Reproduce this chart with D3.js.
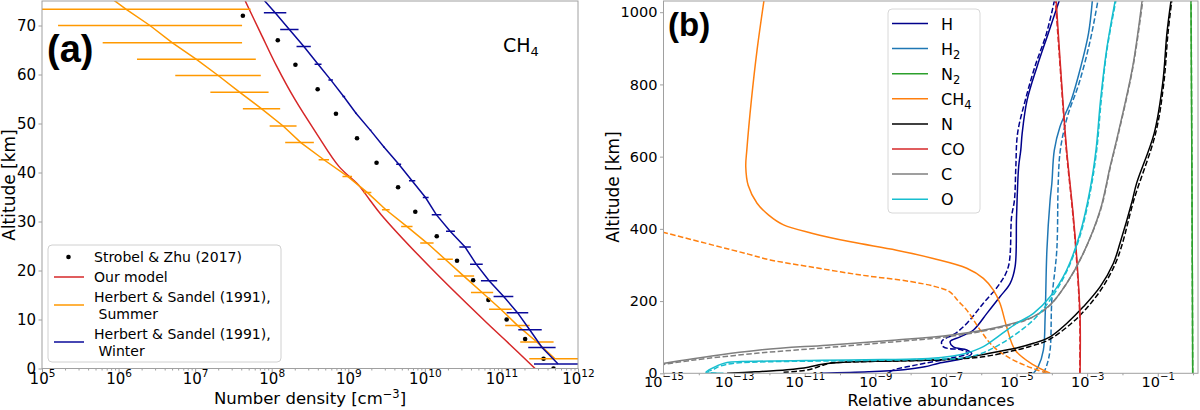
<!DOCTYPE html>
<html><head><meta charset="utf-8">
<script src="https://cdn.jsdelivr.net/npm/d3@7/dist/d3.min.js"></script>
<style>
body{margin:0;background:#fff;}
svg text{font-family:"DejaVu Sans",sans-serif;fill:#000;}
</style></head><body>
<svg id="chart" width="1200" height="410"></svg>
<script>
// ================= Panel (a): CH4 number density [cm^-3] vs altitude [km] =================
const strobelAlt     = [72, 67, 62, 57, 52, 47, 42, 37, 32, 27, 22, 18, 14, 10, 6, 2, 0];
const strobelDensity = [4.2e7, 1.2e8, 2.04e8, 3.98e8, 6.9e8, 1.3e9, 2.34e9, 4.47e9, 7.5e9, 1.43e10, 2.63e10, 4.27e10, 6.76e10, 1.17e11, 2.04e11, 3.55e11, 4.79e11];

const modelAlt     = [75, 68.5, 61.7, 54.9, 48.1, 41.2, 37.5, 34.4, 31.4, 20.5, 9.9, 5.8, 0];
const modelDensity = [4.51e7, 7.14e7, 1.16e8, 2.01e8, 3.8e8, 7.59e8, 1.35e9, 1.91e9, 2.69e9, 1.2e10, 5.89e10, 1.12e11, 2.75e11];

const summerLineAlt     = [75.5, 73.3, 70.0, 66.5, 63.1, 59.8, 56.4, 53.0, 49.5, 46.1, 42.6, 39.2, 35.9, 32.4, 29.0, 25.6, 22.3, 18.9, 15.5, 12.1, 8.8, 5.4, 2.0];
const summerLineDensity = [8.1e5, 1.26e6, 2.57e6, 5.0e6, 1.04e7, 2.0e7, 3.8e7, 7.4e7, 1.41e8, 2.4e8, 4.8e8, 9.8e8, 1.78e9, 3.1e9, 5.8e9, 1.07e10, 1.84e10, 3.2e10, 5.6e10, 9.8e10, 1.62e11, 2.9e11, 5.0e11];
const summerBarAlt  = [73.3, 70.0, 66.5, 63.1, 59.8, 56.4, 53.0, 49.5, 46.1, 42.6, 39.2, 35.9, 32.4, 29.0, 25.6, 22.3, 18.9, 15.5, 12.1, 8.8, 5.4, 2.0];
const summerBarLow  = [2.95e4, 1.62e5, 6.2e5, 1.74e6, 5.5e6, 1.58e7, 4.2e7, 9.4e7, 1.5e8, 4.1e8, 8.4e8, 1.58e9, 2.75e9, 4.9e9, 8.7e9, 1.46e10, 2.4e10, 4.0e10, 6.9e10, 1.12e11, 1.76e11, 2.31e11];
const summerBarHigh = [5.3e7, 4.1e7, 4.1e7, 6.2e7, 7.2e7, 9.1e7, 1.29e8, 2.11e8, 3.55e8, 5.6e8, 1.12e9, 2.0e9, 3.47e9, 6.9e9, 1.3e10, 2.32e10, 4.4e10, 7.8e10, 1.36e11, 2.34e11, 4.8e11, 1.12e12];

const winterLineAlt     = [75.5, 72.6, 69.2, 65.7, 62.1, 58.9, 55.5, 52.1, 48.6, 45.2, 41.7, 38.3, 34.9, 31.4, 28.0, 24.8, 21.3, 17.9, 14.7, 11.4, 7.9, 4.3, 0.9];
const winterLineDensity = [7.6e7, 1.11e8, 1.7e8, 2.63e8, 4.03e8, 5.9e8, 8.7e8, 1.26e9, 1.95e9, 2.92e9, 4.57e9, 6.8e9, 1.02e10, 1.41e10, 2.14e10, 3.35e10, 4.68e10, 6.9e10, 1.07e11, 1.62e11, 2.34e11, 3.39e11, 5.5e11];
const winterBarAlt  = [72.6, 69.2, 65.7, 62.1, 58.9, 55.5, 52.1, 48.6, 45.2, 41.7, 38.3, 34.9, 31.4, 28.0, 24.8, 21.3, 17.9, 14.7, 11.4, 7.9, 4.3, 0.9];
const winterBarLow  = [7.9e7, 1.29e8, 2.11e8, 3.63e8, 5.5e8, 8.4e8, 1.23e9, 1.91e9, 2.85e9, 4.22e9, 6.2e9, 9.4e9, 1.23e10, 1.89e10, 2.82e10, 3.89e10, 5.4e10, 7.9e10, 1.17e11, 1.66e11, 2.24e11, 2.66e11];
const winterBarHigh = [1.55e8, 2.24e8, 3.24e8, 4.47e8, 6.3e8, 9.1e8, 1.29e9, 2.0e9, 2.99e9, 4.9e9, 7.5e9, 1.12e10, 1.64e10, 2.47e10, 3.98e10, 5.7e10, 8.8e10, 1.43e11, 2.24e11, 3.36e11, 5.1e11, 1.15e12];

const xTickExpA = [5, 6, 7, 8, 9, 10, 11, 12];
const yTicksA   = [0, 10, 20, 30, 40, 50, 60, 70];
const legendA   = [["Strobel & Zhu (2017)"], ["Our model"], ["Herbert & Sandel (1991),", " Summer"], ["Herbert & Sandel (1991),", " Winter"]];

// ================= Panel (b): relative abundances, [altitude km, log10 abundance] =================
const H_solid   = [[0,-10.5],[4,-9.2],[10,-8.2],[18,-7.6],[28,-7.2],[41.5,-6.5],[55,-6.27],[64.5,-6.41],[73,-6.79],[88,-6.88],[101,-6.6],[120,-6.22],[166,-5.84],[212,-5.47],[249,-5.18],[296,-5.04],[434,-5.0],[572,-4.94],[618,-4.88],[665,-4.84],[757,-4.70],[849,-4.42],[942,-4.10],[1035,-3.78]];
const H_dashed  = [[4,-8.6],[12,-8.4],[20,-8.0],[28,-7.6],[41.5,-6.88],[55,-6.37],[64.5,-6.55],[73,-7.07],[88,-7.12],[110,-6.74],[138,-6.41],[194,-5.94],[249,-5.47],[296,-5.23],[434,-5.14],[479,-5.06],[572,-5.02],[665,-4.97],[757,-4.75],[849,-4.48],[942,-4.15],[1035,-3.92]];
const H2_solid  = [[0,-4.52],[20,-4.38],[64.5,-4.24],[157,-4.19],[341,-4.14],[479,-4.05],[526,-4.0],[618,-3.93],[683,-3.77],[757,-3.45],[849,-3.18],[942,-2.96],[1035,-2.85]];
const H2_dashed = [[0,-4.24],[20,-4.15],[64.5,-4.05],[203,-4.0],[341,-3.86],[526,-3.82],[618,-3.76],[711,-3.56],[803,-3.23],[923,-2.91],[1035,-2.69]];
const N2_solid  = [[0,-0.01],[500,-0.03],[1035,-0.06]];
const N2_dashed = [[0,-0.01],[500,-0.03],[1035,-0.055]];
const CH4_solid = [[0,-4.05],[23,-4.52],[64.5,-5.04],[129,-5.28],[194,-5.47],[231,-5.66],[263,-5.94],[291,-6.41],[318,-7.36],[341,-8.4],[364,-9.7],[388,-10.8],[411,-11.6],[438,-12.02],[471,-12.35],[520,-12.6],[572,-12.67],[618,-12.64],[757,-12.51],[895,-12.35],[1035,-12.15]];
const CH4_dashed= [[0,-4.14],[20,-4.71],[41.5,-5.18],[74,-5.66],[120,-6.03],[175,-6.41],[200,-6.65],[226,-6.9],[240,-7.3],[254,-8.0],[272,-9.4],[295,-10.85],[314,-11.98],[330,-12.6],[355,-13.6],[393,-15.1]];
const N_solid   = [[0,-13.2],[4,-12.4],[10,-11.5],[17,-10.9],[25,-10.5],[31,-9.8],[34,-8.5],[37,-7.4],[42,-6.5],[55,-5.8],[70,-5.0],[83,-4.52],[101,-4.05],[138,-3.58],[184,-3.11],[240,-2.63],[304,-2.26],[360,-2.07],[479,-1.72],[526,-1.60],[665,-1.1],[803,-0.86],[942,-0.74],[1035,-0.62]];
const N_dashed  = [[3,-11.6],[8,-11.0],[15,-10.7],[22,-10.5],[28,-10.3],[32,-9.5],[35,-8.0],[38,-7.0],[45,-6.0],[60,-5.2],[75,-4.6],[92,-4.1],[138,-3.45],[184,-2.98],[240,-2.55],[304,-2.2],[360,-2.0],[479,-1.68],[665,-1.06],[803,-0.83],[942,-0.71],[1035,-0.60]];
const CO_solid  = [[0,-3.20],[157,-3.20],[300,-3.28],[434,-3.39],[618,-3.58],[800,-3.72],[1035,-3.88]];
const CO_dashed = [[0,-3.21],[157,-3.21],[300,-3.29],[434,-3.40],[618,-3.59],[800,-3.73],[1035,-3.90]];
const C_solid   = [[25.7,-15.1],[40.5,-14.16],[64.5,-12.27],[78,-10.38],[92,-8.4],[106,-6.85],[129,-5.47],[157,-4.52],[189,-4.05],[249,-3.58],[332,-3.11],[452,-2.63],[572,-2.35],[665,-2.12],[849,-1.71],[1035,-1.44]];
const C_dashed  = [[23,-15.1],[36,-14.2],[56,-12.3],[71,-10.4],[87,-8.5],[102,-6.9],[126,-5.5],[155,-4.55],[189,-4.05],[249,-3.58],[332,-3.11],[452,-2.62],[572,-2.34],[665,-2.11],[849,-1.70],[1035,-1.42]];
const O_solid   = [[0,-13.3],[3,-13.8],[10,-13.7],[20,-13.5],[30,-13.2],[34,-12.0],[36,-10.5],[38,-8.8],[41,-7.5],[48,-6.8],[55,-6.45],[74,-5.94],[106,-5.47],[138,-5.0],[166,-4.52],[212,-4.05],[286,-3.58],[388,-3.20],[508,-2.92],[618,-2.75],[757,-2.62],[895,-2.45],[1035,-2.2]];
const O_dashed  = [[0,-13.5],[4,-13.75],[10,-13.6],[20,-13.4],[28,-13.0],[32,-12.0],[34,-10.5],[36,-8.8],[39,-7.4],[41.5,-6.6],[55,-6.0],[80,-5.47],[110,-5.0],[148,-4.52],[203,-4.05],[286,-3.56],[388,-3.18],[508,-2.9],[618,-2.73],[757,-2.6],[895,-2.44],[1035,-2.18]];

const speciesNames = ["H", "H2", "N2", "CH4", "N", "CO", "C", "O"];
const speciesBase  = ["H", "H", "N", "CH", "N", "CO", "C", "O"];
const speciesSub   = ["", "2", "2", "4", "", "", "", ""];
const xTickExpB    = [-15, -13, -11, -9, -7, -5, -3, -1];
const yTicksB      = [0, 200, 400, 600, 800, 1000];

// ================= styles =================
const colA = {strobel:"#000", model:"#d62728", summer:"#ff9900", winter:"#0a0a9a"};
const colB = {H:"#00008b", H2:"#1f77b4", N2:"#2ca02c", CH4:"#ff7f0e", N:"#000000", CO:"#d62728", C:"#7f7f7f", O:"#17becf"};
const curvesB = {
  H:[H_solid,H_dashed], H2:[H2_solid,H2_dashed], N2:[N2_solid,N2_dashed], CH4:[CH4_solid,CH4_dashed],
  N:[N_solid,N_dashed], CO:[CO_solid,CO_dashed], C:[C_solid,C_dashed], O:[O_solid,O_dashed]
};

const svg = d3.select("#chart");
const frame = "#a0a0a0";

const xA = d3.scaleLog().domain([1e5, 1e12]).range([42, 578]);
const yA = d3.scaleLinear().domain([0, 75]).range([368.5, 1]);
const xB = d3.scaleLog().domain([1e-15, 1.38]).range([663.5, 1198]);
const yB = d3.scaleLinear().domain([0, 1031]).range([373.3, 1]);

const defs = svg.append("defs");
defs.append("clipPath").attr("id","clipA").append("rect")
  .attr("x",42).attr("y",1).attr("width",536).attr("height",367.5);
defs.append("clipPath").attr("id","clipB").append("rect")
  .attr("x",663.5).attr("y",1).attr("width",534.5).attr("height",372.3);

function supText(sel, exp, fs){
  sel.text(null);
  sel.append("tspan").text("10");
  sel.append("tspan").attr("dy", -0.48*fs).attr("font-size", (fs*0.7)+"px")
     .text(String(exp).replace("-", "\u2212"));
}
function styleAxis(g){
  g.select(".domain").remove();
  g.selectAll(".tick line").attr("stroke", frame).attr("stroke-width", 1);
}

// ================= Panel (a) =================
const gA = svg.append("g");
const fsA = 15;
const axA = gA.append("g").attr("transform","translate(0,368.5)")
  .call(d3.axisBottom(xA).tickValues(xTickExpA.map(e=>Math.pow(10,e))).tickSize(3.5).tickPadding(3).tickFormat(""));
styleAxis(axA);
axA.selectAll(".tick").append("text").attr("y", 15.5).attr("text-anchor","middle")
  .attr("font-size", fsA+"px").each(function(d,i){ supText(d3.select(this), xTickExpA[i], fsA); });
const minorA = [];
for (let e=5;e<12;e++) for (let k=2;k<10;k++) minorA.push(k*Math.pow(10,e));
const axAm = gA.append("g").attr("transform","translate(0,368.5)")
  .call(d3.axisBottom(xA).tickValues(minorA).tickSize(2).tickFormat(""));
styleAxis(axAm);
const ayA = gA.append("g").attr("transform","translate(42,0)")
  .call(d3.axisLeft(yA).tickValues(yTicksA).tickSize(3.5).tickPadding(2.5).tickFormat(d3.format("d")));
styleAxis(ayA);
ayA.selectAll(".tick text").attr("font-size", fsA+"px").attr("font-family","DejaVu Sans");

const plotA = gA.append("g").attr("clip-path","url(#clipA)");
plotA.selectAll("circle.strobel").data(strobelAlt).enter().append("circle")
  .attr("cx",(d,i)=>xA(strobelDensity[i])).attr("cy",d=>yA(d)).attr("r",2.3).attr("fill",colA.strobel);
const lineA = d3.line().x(d=>xA(d[1])).y(d=>yA(d[0]));
plotA.append("path").datum(modelAlt.map((a,i)=>[a,modelDensity[i]]))
  .attr("d", lineA.curve(d3.curveCatmullRom.alpha(0.5))).attr("fill","none").attr("stroke",colA.model).attr("stroke-width",1.5);
const lineLin = d3.line().x(d=>xA(d[1])).y(d=>yA(d[0]));
plotA.append("path").datum(summerLineAlt.map((a,i)=>[a,summerLineDensity[i]]))
  .attr("d", lineLin).attr("fill","none").attr("stroke",colA.summer).attr("stroke-width",1.5);
plotA.selectAll("line.sb").data(summerBarAlt).enter().append("line")
  .attr("x1",(d,i)=>xA(summerBarLow[i])).attr("x2",(d,i)=>xA(summerBarHigh[i]))
  .attr("y1",d=>yA(d)).attr("y2",d=>yA(d)).attr("stroke",colA.summer).attr("stroke-width",1.5);
plotA.append("path").datum(winterLineAlt.map((a,i)=>[a,winterLineDensity[i]]))
  .attr("d", lineLin).attr("fill","none").attr("stroke",colA.winter).attr("stroke-width",1.5);
plotA.selectAll("line.wb").data(winterBarAlt).enter().append("line")
  .attr("x1",(d,i)=>xA(winterBarLow[i])).attr("x2",(d,i)=>xA(winterBarHigh[i]))
  .attr("y1",d=>yA(d)).attr("y2",d=>yA(d)).attr("stroke",colA.winter).attr("stroke-width",1.5);

gA.append("rect").attr("x",42).attr("y",1).attr("width",536).attr("height",367.5)
  .attr("fill","none").attr("stroke",frame).attr("stroke-width",1);

gA.append("text").attr("x",310).attr("y",404).attr("text-anchor","middle").attr("font-size","16.5px")
  .call(t=>{ t.append("tspan").text("Number density [cm");
             t.append("tspan").attr("dy",-6).attr("font-size","11.5px").text("\u22123");
             t.append("tspan").attr("dy",6).text("]"); });
gA.append("text").attr("transform","translate(14.5,185) rotate(-90)").attr("text-anchor","middle")
  .attr("font-size","17px").text("Altitude [km]");
gA.append("text").attr("x",47).attr("y",62).attr("font-size","38px").attr("font-weight","bold")
  .style("font-family","Liberation Sans, Arial, sans-serif").text("(a)");
gA.append("text").attr("x",503).attr("y",52).attr("font-size","19px")
  .call(t=>{ t.append("tspan").text("CH"); t.append("tspan").attr("dy",4).attr("font-size","13px").text("4"); });

const lgA = gA.append("g");
lgA.append("rect").attr("x",48).attr("y",245).attr("width",233).attr("height",117).attr("rx",4)
  .attr("fill","#fff").attr("fill-opacity",0.8).attr("stroke","#d0d0d0");
const lgRowsA = [257, 277, 305, 342];
lgA.append("circle").attr("cx",68.5).attr("cy",lgRowsA[0]).attr("r",2.3).attr("fill",colA.strobel);
[[colA.model,1],[colA.summer,2],[colA.winter,3]].forEach(([c,i])=>{
  lgA.append("line").attr("x1",54).attr("x2",84).attr("y1",lgRowsA[i]).attr("y2",lgRowsA[i])
    .attr("stroke",c).attr("stroke-width",1.5);
});
legendA.forEach((lines,i)=>{
  const y0 = lines.length===1 ? lgRowsA[i]+5 : lgRowsA[i]-3.5;
  lines.forEach((s,j)=>{
    lgA.append("text").attr("x",94 + (s.startsWith(" ")?4.5:0)).attr("y",y0+j*17)
      .attr("font-size","14px").text(s.trim());
  });
});

// ================= Panel (b) =================
const gB = svg.append("g");
const fsB = 14.5;
const axB = gB.append("g").attr("transform","translate(0,373.3)")
  .call(d3.axisBottom(xB).tickValues(xTickExpB.map(e=>Math.pow(10,e))).tickSize(3.5).tickFormat(""));
styleAxis(axB);
axB.selectAll(".tick").append("text").attr("y",14).attr("text-anchor","middle")
  .attr("font-size",fsB+"px").each(function(d,i){ supText(d3.select(this), xTickExpB[i], fsB); });
const minorB = [];
for (let e=-14;e<=0;e+=2) minorB.push(Math.pow(10,e));
const axBm = gB.append("g").attr("transform","translate(0,373.3)")
  .call(d3.axisBottom(xB).tickValues(minorB).tickSize(2).tickFormat(""));
styleAxis(axBm);
const ayB = gB.append("g").attr("transform","translate(663.5,0)")
  .call(d3.axisLeft(yB).tickValues(yTicksB).tickSize(3.5).tickPadding(2.5).tickFormat(d3.format("d")));
styleAxis(ayB);
ayB.selectAll(".tick text").attr("font-size",fsB+"px").attr("font-family","DejaVu Sans");

const plotB = gB.append("g").attr("clip-path","url(#clipB)");
const lineB = d3.line().x(d=>xB(Math.pow(10,d[1]))).y(d=>yB(d[0])).curve(d3.curveCatmullRom.alpha(0.5));
speciesNames.forEach(sp=>{
  const [solid,dashed] = curvesB[sp];
  plotB.append("path").datum(solid).attr("d",lineB).attr("fill","none")
    .attr("stroke",colB[sp]).attr("stroke-width",1.5);
  plotB.append("path").datum(dashed).attr("d",lineB).attr("fill","none")
    .attr("stroke",colB[sp]).attr("stroke-width",1.5).attr("stroke-dasharray","5.5,2.4");
});
gB.append("rect").attr("x",663.5).attr("y",1).attr("width",534.5).attr("height",372.3)
  .attr("fill","none").attr("stroke",frame).attr("stroke-width",1);

gB.append("text").attr("x",931).attr("y",406).attr("text-anchor","middle").attr("font-size","16px")
  .text("Relative abundances");
gB.append("text").attr("transform","translate(619,187) rotate(-90)").attr("text-anchor","middle")
  .attr("font-size","17px").text("Altitude [km]");
gB.append("text").attr("x",668).attr("y",36).attr("font-size","33px").attr("font-weight","bold")
  .style("font-family","Liberation Sans, Arial, sans-serif").text("(b)");

const lgB = gB.append("g");
lgB.append("rect").attr("x",888).attr("y",9).attr("width",92).attr("height",204).attr("rx",4)
  .attr("fill","#fff").attr("fill-opacity",0.8).attr("stroke","#d8d8d8");
speciesNames.forEach((sp,i)=>{
  const y = 23.5 + i*25.1;
  lgB.append("line").attr("x1",892).attr("x2",928).attr("y1",y).attr("y2",y)
    .attr("stroke",colB[sp]).attr("stroke-width",1.5);
  const t = lgB.append("text").attr("x",941).attr("y",y+6).attr("font-size","16px");
  t.append("tspan").text(speciesBase[i]);
  if (speciesSub[i]) t.append("tspan").attr("dy",4).attr("font-size","11.5px").text(speciesSub[i]);
});
</script>
</body></html>
